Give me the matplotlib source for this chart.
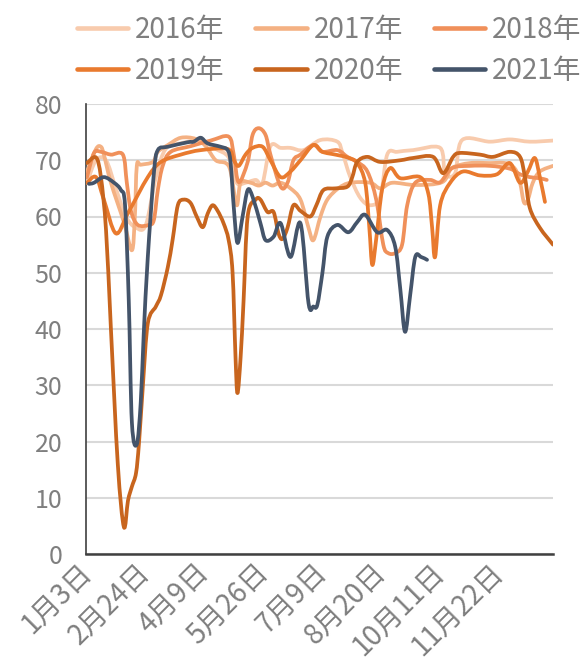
import matplotlib
matplotlib.use('Agg')
import matplotlib.pyplot as plt
from matplotlib.path import Path
from matplotlib.patches import PathPatch
from matplotlib.lines import Line2D
import numpy as np

plt.rcParams['font.family'] = ['Noto Sans CJK SC', 'DejaVu Sans']

# ---- data (x = trading-day index on the category axis) ----
tick_labels = ['1月3日', '2月24日', '4月9日', '5月26日', '7月9日', '8月20日', '10月11日', '11月22日']
tick_pos = [0, 30, 60, 90, 120, 150, 180, 210]
x_max = 237.5

series_names = ['2016年', '2017年', '2018年', '2019年', '2020年', '2021年']
colors = ['#F8CBAD', '#F4B183', '#F0905A', '#E97A2E', '#C8651E', '#44546A']

x_2016 = [0, 4.6, 9.7, 14.7, 19.8, 25.0, 30.0, 35.1, 40.1, 47.8, 58.0, 65.6, 72.2, 76.3, 80.8, 86.0, 89.5,
          93.5, 98.7, 103.7, 110.3, 119.0, 127.6, 130.2, 134.2, 139.3, 144.4, 149.5, 153.0, 158.1, 166.2,
          180.0, 182.5, 187.6, 191.2, 205.4, 215.5, 225.7, 237.5]
y_2016 = [66, 70, 70, 65, 60, 58, 58.5, 67, 72, 73, 73.5, 72, 70.5, 66, 66, 66.5, 66,
          72.5, 72.2, 72.2, 71.8, 73.6, 73.3, 71.3, 67, 63.3, 62, 63.5, 71, 71.5, 71.8,
          72.2, 67.7, 67.7, 73.6, 73.3, 73.7, 73.3, 73.5]

x_2017 = [0, 4.6, 7.1, 8.6, 12.2, 18.8, 22.9, 24.4, 25.4, 27.4, 33.6, 36.1, 41.2, 47.8, 55.4, 60.5, 65.6,
          70.7, 73.2, 76.3, 78.3, 83.4, 87.5, 91.0, 94.6, 98.7, 103.7, 108.8, 112.9, 115.4, 119.0, 122.5,
          128.1, 134.2, 144.4, 149.5, 155.6, 167.3, 181.0, 186.0, 195.2, 205.4, 213.0, 218.1, 220.7, 222.7,
          224.7, 227.2, 230.8, 237.5]
y_2017 = [68, 72, 72.4, 71, 66, 59, 54, 60, 69, 69.2, 69.7, 71.5, 72.7, 74, 73.8, 72.5, 70,
          69.5, 68, 62, 66, 66, 65.5, 66, 65.5, 66, 65, 63, 58, 55.8, 60, 63,
          65, 66, 66, 65, 66, 65.6, 66.1, 68.6, 69.5, 69.5, 69.5, 68.5, 66, 62.5,
          63, 66, 68, 69]

x_2018 = [0, 3.6, 7.1, 12.2, 18.3, 20.3, 22.4, 25.9, 31.5, 34.1, 36.1, 38.6, 42.7, 52.8, 63.0, 72.2, 74.8,
          77.3, 81.9, 84.4, 87.5, 91.0, 93.5, 98.7, 102.2, 105.2, 108.8, 115.4, 120.0, 127.6, 132.7, 137.7,
          142.9, 147.4, 151.0, 153.5, 157.1, 160.6, 163.2, 167.3, 174.8, 180.0, 186.0, 195.2, 205.4, 215.5,
          220.7, 225.7, 230.8, 234.3]
y_2018 = [67, 71.3, 71.5, 71, 71, 66, 61, 58.5, 58.5, 59.4, 64.7, 69, 71.5, 72.5, 73.5, 74.2, 71,
          66.1, 69.7, 74.5, 75.7, 74.5, 71, 65.3, 66, 70, 71, 72.7, 71.5, 71.8, 70.6, 69.7,
          68, 63, 55, 53.5, 53.5, 55, 62, 66, 66.5, 66.1, 68.6, 69, 69, 68.5,
          67.5, 67, 66.8, 66.5]

x_2019 = [0, 4.6, 8.6, 14.7, 20.9, 31.0, 37.7, 47.8, 58.0, 71.7, 74.8, 77.3, 80.8, 84.4, 89.5, 93.5,
          98.7, 103.7, 108.8, 115.4, 120.0, 126.6, 132.7, 137.7, 141.8, 143.9, 145.4, 147.4, 150.5, 154.5,
          159.7, 169.8, 174.0, 175.9, 177.4, 180.0, 185.1, 191.6, 200.3, 208.9, 215.5, 220.7, 224.7, 228.2,
          230.8, 233.4]
y_2019 = [66, 67, 63, 57, 60.6, 67, 69.7, 71, 71.8, 72, 70, 69, 71, 72.2, 72.4, 70,
          67, 68, 70, 72.7, 71.5, 71, 70.5, 69.5, 66, 58, 51.4, 56, 65, 68.6,
          66.8, 67, 64, 58, 52.8, 62, 66, 68, 67.3, 67.5, 69.5, 66, 68, 70.4,
          67, 62.6]

x_2020 = [0, 4.6, 7.1, 9.7, 12.2, 15.7, 18.8, 20.9, 22.9, 25.0, 26.5, 28.5, 31.0, 35.1, 37.7, 41.2,
          43.7, 46.3, 49.3, 52.8, 55.9, 59.0, 61.5, 64.0, 66.6, 69.6, 72.2, 74.2, 75.7, 76.7, 78.3, 79.8,
          81.9, 86.0, 88.4, 92.0, 95.1, 97.6, 99.6, 102.2, 105.2, 108.8, 113.8, 116.9, 120.5, 126.6,
          132.7, 135.2, 137.7, 142.9, 149.5, 159.7, 166.2, 176.4, 181.5, 186.6, 190.1, 200.3, 206.9, 215.5,
          220.7, 223.2, 225.7, 230.8, 237.5]
y_2020 = [69.5, 70.5, 67, 57.6, 40, 16, 4.8, 9.5, 12, 14.4, 19.7, 30, 41, 44, 46, 51,
          56, 62, 63, 62.4, 60, 58.1, 60.5, 62, 61, 58.8, 55.8, 50, 35, 28.6, 35, 45,
          60, 63, 63, 60.8, 60.8, 57, 56, 58, 62, 61, 60, 62, 64.7, 65,
          65.3, 67, 69.7, 70.6, 69.7, 70, 70.4, 70.6, 67.7, 70.6, 71.3, 71, 70.6, 71.5,
          70.6, 67, 61.5, 58, 55]

x_2021 = [1.0, 3.6, 8.6, 13.8, 17.3, 19.4, 21.3, 22.9, 25.4, 27.4, 28.9, 31.0, 34.1, 36.1, 41.2, 51.3,
          54.4, 58.0, 61.5, 68.1, 71.7, 73.2, 74.8, 76.7, 79.3, 81.9, 84.4, 88.4, 91.0, 95.1, 98.7,
          103.7, 108.8, 112.9, 115.4, 117.4, 120.0, 122.5, 127.6, 133.2, 137.7, 141.8, 147.9, 153.0, 157.1,
          159.7, 162.1, 164.7, 167.3, 170.3, 173.3]
y_2021 = [65.8, 66, 67, 66, 64.7, 62, 45, 23.3, 19.5, 27, 39, 52.8, 67.7, 71.8, 72.4, 73.2,
          73.3, 74, 73, 72.4, 71.8, 69.5, 61.7, 55.3, 60, 64.7, 63.5, 58.8, 55.8, 56.4, 58.8,
          52.8, 58.8, 44.6, 44, 44.3, 50, 56.4, 58.5, 57.2, 59, 60.3, 57.2, 57.6, 54.6,
          47, 39.5, 46, 52.8, 52.8, 52.3]

xs_all = [x_2016, x_2017, x_2018, x_2019, x_2020, x_2021]
ys_all = [y_2016, y_2017, y_2018, y_2019, y_2020, y_2021]


def smooth_path(xs, ys, t=1/6):
    pts = np.column_stack([xs, ys]).astype(float)
    n = len(pts)
    verts = [pts[0]]
    codes = [Path.MOVETO]
    for i in range(n - 1):
        p0 = pts[i - 1] if i > 0 else pts[i]
        p1 = pts[i]
        p2 = pts[i + 1]
        p3 = pts[i + 2] if i + 2 < n else pts[i + 1]
        c1 = p1 + (p2 - p0) * t
        c2 = p2 - (p3 - p1) * t
        c1[0] = np.clip(c1[0], p1[0], p2[0])
        c2[0] = np.clip(c2[0], p1[0], p2[0])
        verts += [c1, c2, p2]
        codes += [Path.CURVE4] * 3
    return Path(verts, codes)


W, H = 585, 661
fig = plt.figure(figsize=(W / 100, H / 100), dpi=100)
ax = fig.add_axes([86 / W, 1 - 554 / H, (553 - 86) / W, (554 - 104) / H])

for xs, ys, c in zip(xs_all, ys_all, colors):
    ax.add_patch(PathPatch(smooth_path(xs, ys), fill=False, edgecolor=c, lw=2.7,
                           capstyle='round', joinstyle='round', zorder=3))

ax.set_xlim(-0.5, x_max)
ax.set_ylim(0, 80)
ax.set_yticks(range(0, 81, 10))
ax.yaxis.grid(True, color='#D9D9D9', lw=1.5)
ax.set_axisbelow(True)
ax.set_xticks(tick_pos)
ax.set_xticklabels(tick_labels, rotation=45, ha='right', va='center', rotation_mode='anchor')
ax.tick_params(axis='both', length=0, colors='#7F7F7F')
ax.tick_params(axis='y', pad=17, labelsize=18)
ax.tick_params(axis='x', pad=10, labelsize=20)
for s in ['top', 'right']:
    ax.spines[s].set_visible(False)
ax.spines['left'].set_color('#404040')
ax.spines['left'].set_linewidth(1.2)
ax.spines['bottom'].set_color('#404040')
ax.spines['bottom'].set_linewidth(1.8)

order = [0, 3, 1, 4, 2, 5]
handles = [Line2D([], [], color=colors[i], lw=3.3, solid_capstyle='round') for i in order]
labels = [series_names[i] for i in order]
fig.legend(handles, labels, ncol=3, loc='upper left', bbox_to_anchor=(77 / W, 1 - 15 / H),
           frameon=False, fontsize=20, labelcolor='#7F7F7F', handlelength=1.85,
           handletextpad=0.25, columnspacing=1.1, labelspacing=0.4, borderpad=0, borderaxespad=0)

fig.savefig('out.png', dpi=100)
